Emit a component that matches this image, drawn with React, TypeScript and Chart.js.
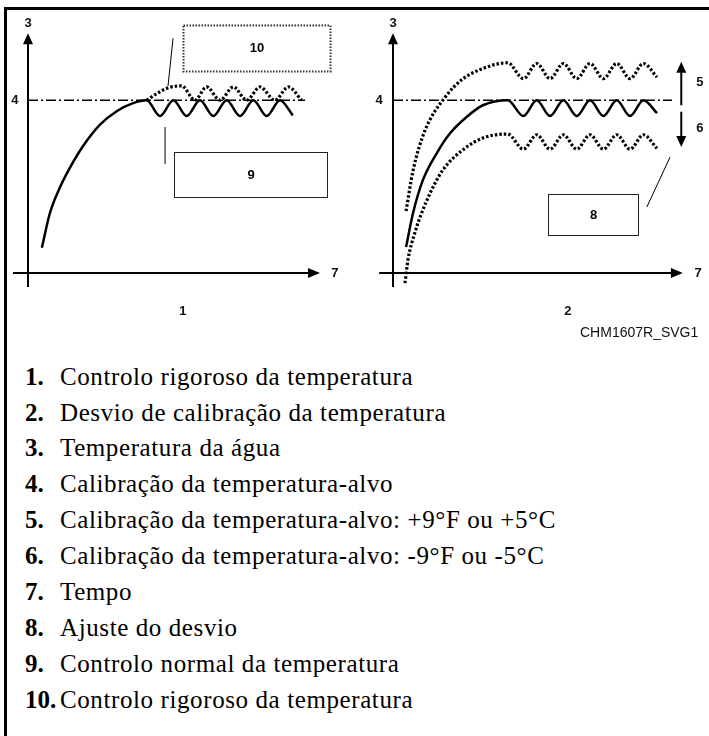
import React, { useEffect, useRef } from "react";
import { Chart, registerables } from "chart.js";
Chart.register(...registerables);

// ---------- Panel 1: tight temperature control ----------
const P1_SOLID_X = [0.52, 0.82, 1.2, 1.6, 2.06, 2.7, 3.34, 3.94, 4.45, 4.95, 5.45, 5.95, 6.45, 6.95, 7.45, 7.95, 8.45, 8.95, 9.45, 9.93];
const P1_SOLID_Y = [3.5, 8.3, 11.9, 14.8, 17.6, 20.6, 22.5, 23.6, 24.0, 21.8, 24.0, 21.8, 24.0, 21.8, 24.0, 21.8, 24.0, 21.8, 24.0, 21.9];
const P1_DOTTED_X = [4.45, 4.85, 5.25, 5.76, 6.26, 6.7, 7.2, 7.7, 8.2, 8.7, 9.26, 9.76, 10.26];
const P1_DOTTED_Y = [24.0, 24.95, 25.7, 26.0, 24.0, 25.85, 24.0, 25.85, 24.0, 25.85, 24.0, 25.85, 24.0];
const P1_TARGET_X = [0, 10.39];
const P1_TARGET_Y = [24, 24];

// ---------- Panel 2: calibration offset ----------
const P2_SOLID_X = [0.49, 0.75, 1.12, 1.65, 2.14, 2.77, 3.37, 4.3, 4.89, 5.39, 5.89, 6.39, 6.89, 7.39, 7.89, 8.39, 8.89, 9.39, 9.9];
const P2_SOLID_Y = [3.6, 8.3, 12.9, 16.7, 19.4, 21.7, 23.3, 24.0, 21.8, 24.0, 21.8, 24.0, 21.8, 24.0, 21.8, 24.0, 21.8, 24.0, 22.2];
const P2_UPPER_X = [0.49, 0.75, 1.2, 1.95, 2.6, 3.37, 4.3, 4.89, 5.39, 5.89, 6.39, 6.89, 7.39, 7.89, 8.39, 8.89, 9.39, 9.9];
const P2_UPPER_Y = [8.6, 14.2, 19.8, 24.4, 26.9, 28.4, 29.2, 27.0, 29.1, 27.0, 29.1, 27.0, 29.1, 27.0, 29.1, 27.0, 29.1, 27.2];
const P2_LOWER_X = [0.45, 0.56, 0.82, 1.27, 1.87, 2.62, 3.37, 4.3, 4.89, 5.39, 5.89, 6.39, 6.89, 7.39, 7.89, 8.39, 8.89, 9.39, 9.9];
const P2_LOWER_Y = [-1.4, 1.8, 5.6, 10.1, 14.3, 17.1, 18.75, 19.3, 17.2, 19.2, 17.2, 19.2, 17.2, 19.2, 17.2, 19.2, 17.2, 19.2, 17.3];
const P2_TARGET_X = [0, 10.46];
const P2_TARGET_Y = [24, 24];

// ---------- Legend ----------
const LEGEND_NUMS = ["1.", "2.", "3.", "4.", "5.", "6.", "7.", "8.", "9.", "10."];
const LEGEND_TEXTS = [
  "Controlo rigoroso da temperatura",
  "Desvio de calibração da temperatura",
  "Temperatura da água",
  "Calibração da temperatura-alvo",
  "Calibração da temperatura-alvo: +9°F ou +5°C",
  "Calibração da temperatura-alvo: -9°F ou -5°C",
  "Tempo",
  "Ajuste do desvio",
  "Controlo normal da temperatura",
  "Controlo rigoroso da temperatura",
];
const FIGURE_CODE = "CHM1607R_SVG1";

const SANS = '"Liberation Sans", Arial, sans-serif';
const SERIF = '"Liberation Serif", "Times New Roman", serif';

type Pt = { x: number; y: number };
const zip = (xs: number[], ys: number[]): Pt[] => xs.map((x, i) => ({ x, y: ys[i] }));

function arrowHead(ctx: CanvasRenderingContext2D, tx: number, ty: number, dx: number, dy: number, len: number, half: number) {
  const bx = tx - dx * len;
  const by = ty - dy * len;
  ctx.beginPath();
  ctx.moveTo(tx, ty);
  ctx.lineTo(bx - dy * half, by + dx * half);
  ctx.lineTo(bx + dy * half, by - dx * half);
  ctx.closePath();
  ctx.fill();
}

const diagramPlugin = {
  id: "diagram",
  beforeDatasetsDraw(chart: any, _a: any, o: any) {
    const { ctx } = chart;
    const sx = chart.scales.x;
    const sy = chart.scales.y;
    const px = (v: number) => sx.getPixelForValue(v);
    const py = (v: number) => sy.getPixelForValue(v);
    ctx.save();
    ctx.strokeStyle = "#000";
    ctx.fillStyle = "#000";
    ctx.lineWidth = 2;
    ctx.setLineDash([]);
    // x axis
    ctx.beginPath();
    ctx.moveTo(px(o.axisX[0]), py(0));
    ctx.lineTo(px(o.axisX[1]) - 8, py(0));
    ctx.stroke();
    arrowHead(ctx, px(o.axisX[1]), py(0), 1, 0, 12, 5);
    // y axis
    ctx.beginPath();
    ctx.moveTo(px(0), py(o.axisY[0]));
    ctx.lineTo(px(0), py(o.axisY[1]) + 8);
    ctx.stroke();
    arrowHead(ctx, px(0), py(o.axisY[1]), 0, -1, 11, 5);
    ctx.restore();
  },
  afterDatasetsDraw(chart: any, _a: any, o: any) {
    const { ctx } = chart;
    const sx = chart.scales.x;
    const sy = chart.scales.y;
    const px = (v: number) => sx.getPixelForValue(v);
    const py = (v: number) => sy.getPixelForValue(v);
    ctx.save();
    ctx.strokeStyle = "#000";
    ctx.fillStyle = "#000";
    // boxes
    (o.boxes || []).forEach((b: any) => {
      const x1 = Math.round(px(b.x1)) + 0.5;
      const x2 = Math.round(px(b.x2)) + 0.5;
      const y1 = Math.round(py(b.y1)) + 0.5;
      const y2 = Math.round(py(b.y2)) + 0.5;
      ctx.lineWidth = b.dotted ? 2 : 1;
      ctx.setLineDash(b.dotted ? [1.5, 1.5] : []);
      ctx.strokeStyle = b.dotted ? "#333" : "#222";
      ctx.strokeRect(x1, y1, x2 - x1, y2 - y1);
      ctx.setLineDash([]);
      ctx.font = "bold 13px " + SANS;
      ctx.textAlign = "center";
      ctx.textBaseline = "middle";
      ctx.fillText(b.text, (x1 + x2) / 2, (y1 + y2) / 2);
    });
    // leader lines
    ctx.strokeStyle = "#000";
    ctx.lineWidth = 1;
    (o.leaders || []).forEach((l: number[]) => {
      ctx.beginPath();
      ctx.moveTo(px(l[0]), py(l[1]));
      ctx.lineTo(px(l[2]), py(l[3]));
      ctx.stroke();
    });
    // vertical arrows
    ctx.lineWidth = 2;
    (o.arrows || []).forEach((a: any) => {
      const x = px(a.x);
      const yFrom = py(a.from);
      const yTo = py(a.to);
      const dir = yTo < yFrom ? -1 : 1;
      ctx.beginPath();
      ctx.moveTo(x, yFrom);
      ctx.lineTo(x, yTo - dir * 8);
      ctx.stroke();
      arrowHead(ctx, x, yTo, 0, dir, 11, 5);
    });
    // labels
    ctx.font = "bold 13px " + SANS;
    ctx.textAlign = "center";
    ctx.textBaseline = "middle";
    ctx.fillStyle = "#111";
    (o.labels || []).forEach((t: any) => {
      ctx.fillText(t.text, px(t.x), py(t.y));
    });
    ctx.restore();
  },
};

const solidStyle = { borderColor: "#000", borderWidth: 2.5, cubicInterpolationMode: "monotone", pointRadius: 0, fill: false };
const dottedStyle = { borderColor: "#000", borderWidth: 3.2, borderDash: [2.5, 2], cubicInterpolationMode: "monotone", pointRadius: 0, fill: false };
const targetStyle = { borderColor: "#000", borderWidth: 1.5, borderDash: [10, 3, 2, 3], pointRadius: 0, fill: false, tension: 0 };

function makeConfig(datasets: any[], xr: number[], yr: number[], annot: any) {
  return {
    type: "line",
    data: { datasets },
    options: {
      animation: false,
      responsive: false,
      maintainAspectRatio: false,
      events: [],
      layout: { padding: 0 },
      scales: {
        x: { type: "linear", min: xr[0], max: xr[1], display: false },
        y: { type: "linear", min: yr[0], max: yr[1], display: false },
      },
      plugins: { legend: { display: false }, tooltip: { enabled: false }, title: { display: false }, diagram: annot },
    },
    plugins: [diagramPlugin],
  };
}

const Y_RANGE = [-8.194, 36.25];

const panel1Config = makeConfig(
  [
    { ...targetStyle, data: zip(P1_TARGET_X, P1_TARGET_Y) },
    { ...dottedStyle, data: zip(P1_DOTTED_X, P1_DOTTED_Y) },
    { ...solidStyle, data: zip(P1_SOLID_X, P1_SOLID_Y) },
  ],
  [-0.75, 12.075],
  Y_RANGE,
  {
    axisX: [-0.56, 10.95],
    axisY: [-1.94, 33.3],
    boxes: [
      { x1: 5.81, x2: 11.32, y1: 34.4, y2: 28.06, dotted: true, text: "10" },
      { x1: 5.47, x2: 11.21, y1: 16.8, y2: 10.56, dotted: false, text: "9" },
    ],
    leaders: [
      [5.44, 32.6, 5.25, 25.97],
      [5.14, 20.28, 5.14, 15.14],
    ],
    labels: [
      { text: "3", x: 0, y: 34.7 },
      { text: "4", x: -0.49, y: 24 },
      { text: "7", x: 11.51, y: 0 },
      { text: "1", x: 5.81, y: -5.4 },
    ],
  }
);

const panel2Config = makeConfig(
  [
    { ...targetStyle, data: zip(P2_TARGET_X, P2_TARGET_Y) },
    { ...dottedStyle, data: zip(P2_UPPER_X, P2_UPPER_Y) },
    { ...dottedStyle, data: zip(P2_LOWER_X, P2_LOWER_Y) },
    { ...solidStyle, data: zip(P2_SOLID_X, P2_SOLID_Y) },
  ],
  [-1.6125, 11.85],
  Y_RANGE,
  {
    axisX: [-0.52, 10.87],
    axisY: [-1.94, 33.3],
    boxes: [{ x1: 5.81, x2: 9.19, y1: 10.97, y2: 5.28, dotted: false, text: "8" }],
    leaders: [[9.52, 9.17, 10.39, 16.1]],
    arrows: [
      { x: 10.81, from: 23.3, to: 29.35 },
      { x: 10.81, from: 22.4, to: 17.5 },
    ],
    labels: [
      { text: "3", x: 0, y: 34.7 },
      { text: "4", x: -0.52, y: 24 },
      { text: "7", x: 11.44, y: 0 },
      { text: "2", x: 6.56, y: -5.4 },
      { text: "5", x: 11.51, y: 26.4 },
      { text: "6", x: 11.51, y: 20.1 },
    ],
  }
);

function Panel(props: { left: number; top: number; width: number; height: number; config: any }) {
  const ref = useRef<HTMLCanvasElement>(null);
  useEffect(() => {
    const chart = new Chart(ref.current as HTMLCanvasElement, props.config);
    return () => chart.destroy();
  }, []);
  return (
    <canvas
      ref={ref}
      width={props.width}
      height={props.height}
      style={{ position: "absolute", left: props.left, top: props.top, width: props.width, height: props.height }}
    />
  );
}

export default function App() {
  return (
    <div style={{ position: "absolute", left: 0, top: 0, width: 709, height: 736, background: "#fff", overflow: "hidden" }}>
      {/* frame */}
      <div style={{ position: "absolute", left: 4, top: 7, right: 0, height: 3, background: "#000" }} />
      <div style={{ position: "absolute", left: 4, top: 7, width: 3, bottom: 0, background: "#000" }} />
      <Panel left={8} top={12} width={342} height={320} config={panel1Config} />
      <Panel left={350} top={12} width={359} height={320} config={panel2Config} />
      <div style={{ position: "absolute", left: 580, top: 324, fontFamily: SANS, fontSize: 14, lineHeight: "16px", color: "#111" }}>
        {FIGURE_CODE}
      </div>
      <div style={{ position: "absolute", left: 25, top: 358.6, fontFamily: SERIF, fontSize: 25, lineHeight: "35.9px", color: "#000" }}>
        {LEGEND_TEXTS.map((t, i) => (
          <div key={i} style={{ display: "flex", whiteSpace: "nowrap" }}>
            <span style={{ width: 35, fontWeight: "bold", flex: "none" }}>{LEGEND_NUMS[i]}</span>
            <span style={{ letterSpacing: "0.6px" }}>{t}</span>
          </div>
        ))}
      </div>
    </div>
  );
}
